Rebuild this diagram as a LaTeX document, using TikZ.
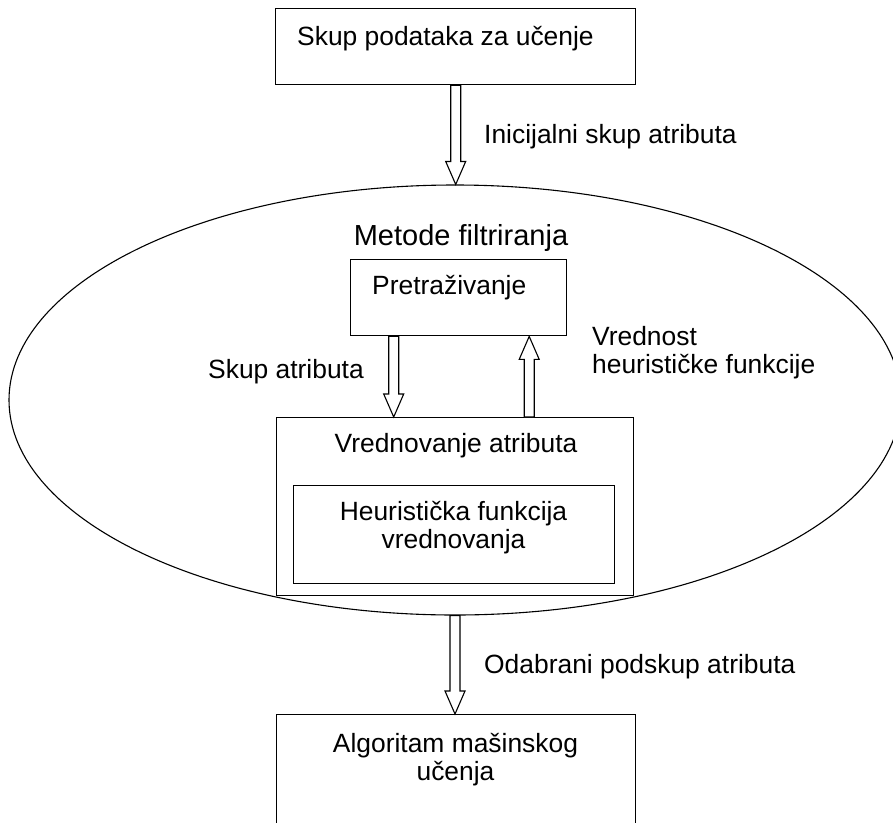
\documentclass[tikz,border=0pt]{standalone}
\usepackage{fontspec}
\setmainfont{Liberation Sans}
\usetikzlibrary{calc,shapes.geometric}

\begin{document}
\begin{tikzpicture}[x=1pt,y=-1pt,
  box/.style={draw, line width=1.4pt, rectangle, inner sep=0pt, anchor=north west},
  txt/.style={inner sep=0pt, font=\fontsize{26.4}{28}\selectfont},
  bigtxt/.style={inner sep=0pt, font=\fontsize{29}{33}\selectfont},
  fat/.style={draw, line width=1.1pt, fill=white, line join=miter,
    to path={
      ($(\tikztotarget)!23pt!(\tikztostart)$) coordinate (fahead)
      ($(\tikztostart)!5pt!90:(\tikztotarget)$)
      -- ($(fahead)!5pt!90:(\tikztotarget)$)
      -- ($(fahead)!10pt!90:(\tikztotarget)$)
      -- (\tikztotarget)
      -- ($(fahead)!10pt!-90:(\tikztotarget)$)
      -- ($(fahead)!5pt!-90:(\tikztotarget)$)
      -- ($(\tikztostart)!5pt!-90:(\tikztotarget)$)
      -- cycle}}]

\useasboundingbox (0,0) rectangle (893,822);
\clip (0,0) rectangle (893,822);

% filtering method region
\node[draw, ellipse, line width=1.1pt, inner sep=0pt,
      minimum width=892pt, minimum height=430pt] (filt) at (455,400) {};
\node[bigtxt, anchor=base] (filttxt) at (461,245) {Metode filtriranja};

% training data
\node[box, minimum width=360pt, minimum height=76pt] (data) at (275,8) {};
\node[txt, anchor=base west] (datatxt) at (297,45) {Skup podataka za učenje};

% search
\node[box, minimum width=216pt, minimum height=76pt] (pret) at (350,259) {};
\node[txt, anchor=base west] (prettxt) at (372,294) {Pretraživanje};

% attribute evaluation
\node[box, minimum width=357pt, minimum height=178pt] (vred) at (276,417) {};
\node[txt, anchor=base] (vredtxt) at (456,452) {Vrednovanje atributa};
\node[box, minimum width=321pt, minimum height=98pt] (heur) at (293,485) {};
\node[txt, anchor=base, align=center] (heurtxt) at (453.5,548)
  {Heuristička funkcija\\vrednovanja};

% learning algorithm
\node[box, minimum width=359pt, minimum height=130pt] (alg) at (276,714) {};
\node[txt, anchor=base, align=center] (algtxt) at (455.5,780)
  {Algoritam mašinskog\\učenja};

% arrow labels
\node[txt, anchor=base west] (initxt) at (484,143) {Inicijalni skup atributa};
\node[txt, anchor=base west] (skuptxt) at (208,378) {Skup atributa};
\node[txt, anchor=base west, align=left] (vrtxt) at (592,373)
  {Vrednost\\heurističke funkcije};
\node[txt, anchor=base west] (odtxt) at (484,673) {Odabrani podskup atributa};

% hollow arrows
\draw[fat] (data.south) to (data.south |- filt.north);
\draw[fat] ([xshift=-65pt]pret.south) to ([xshift=-61.5pt]vred.north);
\draw[fat] ([xshift=74pt]vred.north) to ([xshift=70.5pt]pret.south);
\draw[fat] (filt.south) to (filt.south |- alg.north);

\end{tikzpicture}
\end{document}
